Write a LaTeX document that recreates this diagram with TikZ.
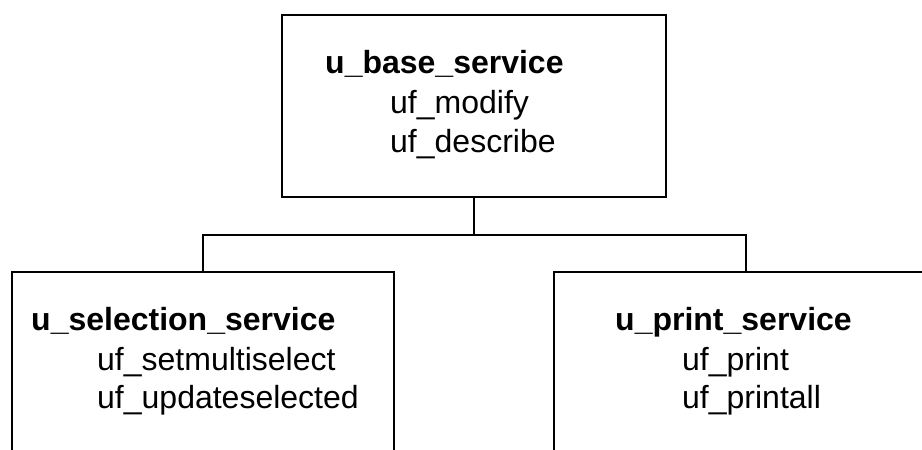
\documentclass[tikz,border=0pt]{standalone}
\usepackage{fontspec}
\setmainfont{Liberation Sans}

\tikzset{
  svcbox/.style={draw,line width=2pt,rectangle,anchor=north west,inner sep=0pt},
  svcname/.style={anchor=base west,inner sep=0pt,font=\fontsize{32}{38}\selectfont\bfseries},
  svcfunc/.style={anchor=base west,inner sep=0pt,font=\fontsize{32}{38}\selectfont},
  link/.style={line width=2pt}
}

\begin{document}
\begin{tikzpicture}[x=1pt,y=-1pt]
\useasboundingbox (0,0) rectangle (922,450);
\clip (0,0) rectangle (922,450);

% Base service
\node[svcbox,minimum width=384pt,minimum height=182pt] (base) at (281,14) {};
\node[svcname] (basename) at ([shift={(44,59)}]base.north west) {u\_base\_service};
\node[svcfunc] (modify) at ([shift={(65,40)}]basename.base west) {uf\_modify};
\node[svcfunc] (describe) at ([shift={(0,39)}]modify.base west) {uf\_describe};

% Selection service
\node[svcbox,minimum width=382pt,minimum height=230pt] (sel) at (11,271) {};
\node[svcname] (selname) at ([shift={(20,59)}]sel.north west) {u\_selection\_service};
\node[svcfunc] (multi) at ([shift={(66,40)}]selname.base west) {uf\_setmultiselect};
\node[svcfunc] (updsel) at ([shift={(0,38)}]multi.base west) {uf\_updateselected};

% Print service
\node[svcbox,minimum width=384pt,minimum height=230pt] (prn) at (553,271) {};
\node[svcname] (prnname) at ([shift={(62,59)}]prn.north west) {u\_print\_service};
\node[svcfunc] (print) at ([shift={(67,40)}]prnname.base west) {uf\_print};
\node[svcfunc] (printall) at ([shift={(0,38)}]print.base west) {uf\_printall};

% Links
\coordinate (fork) at ([yshift=-37pt]base.south);
\draw[link] (base.south) -- (fork);
\draw[link] (sel.north) |- (fork) -| (prn.north);
\end{tikzpicture}
\end{document}
